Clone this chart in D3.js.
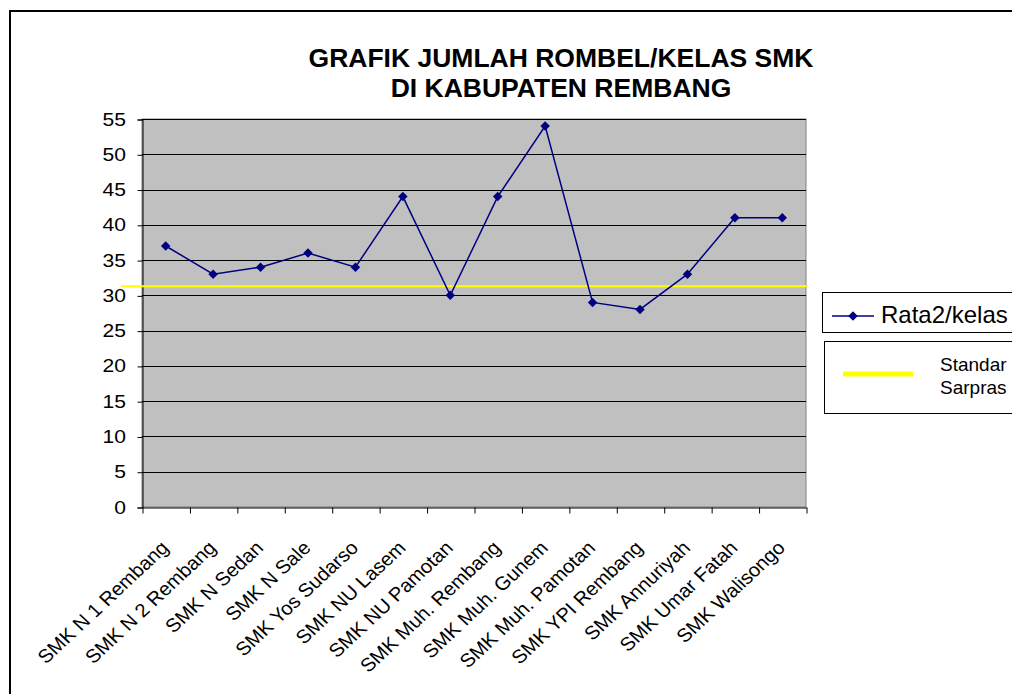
<html>
<head>
<script src="https://d3js.org/d3.v7.min.js"></script>
<style>
  body { margin: 0; background: #fff; }
  text { font-family: "Liberation Sans", Arial, sans-serif; fill: #000; }
</style>
</head>
<body>
<svg id="chart" width="1012" height="694"></svg>
<script>
// data
const sekolah = ["SMK N 1 Rembang", "SMK N 2 Rembang", "SMK N Sedan", "SMK N Sale",
  "SMK Yos Sudarso", "SMK NU Lasem", "SMK NU Pamotan", "SMK Muh. Rembang",
  "SMK Muh. Gunem", "SMK Muh. Pamotan", "SMK YPI Rembang", "SMK Annuriyah",
  "SMK Umar Fatah", "SMK Walisongo"];
const rata2 = [37, 33, 34, 36, 34, 44, 30, 44, 54, 29, 28, 33, 41, 41];
const standarSarpras = 31.3;
const yTicks = [0, 5, 10, 15, 20, 25, 30, 35, 40, 45, 50, 55];
const judul = ["GRAFIK JUMLAH ROMBEL/KELAS SMK", "DI KABUPATEN REMBANG"];

const svg = d3.select("#chart");
const plot = { left: 142, top: 119, right: 806, bottom: 507 };
const stretch = 1.14; // axis text in the picture is a bit wide

// outer frame
svg.append("rect")
  .attr("x", 10).attr("y", 11).attr("width", 1100).attr("height", 800)
  .attr("fill", "none").attr("stroke", "#000").attr("stroke-width", 2);

// title
svg.selectAll(".judul").data(judul).enter().append("text")
  .attr("class", "judul")
  .attr("x", 561).attr("y", (d, i) => 67 + i * 30)
  .attr("text-anchor", "middle")
  .style("font-weight", "bold").style("font-size", "26.5px")
  .text(d => d);

const x = d3.scaleBand().domain(sekolah).range([plot.left, plot.right]);
const y = d3.scaleLinear().domain([0, 55]).range([plot.bottom, plot.top]);

// plot background
svg.append("rect")
  .attr("x", plot.left).attr("y", plot.top)
  .attr("width", plot.right - plot.left).attr("height", plot.bottom - plot.top)
  .attr("fill", "#c0c0c0").attr("stroke", "#808080");

// gridlines
svg.selectAll(".grid").data(yTicks.filter(d => d > 0)).enter().append("line")
  .attr("x1", plot.left).attr("x2", plot.right)
  .attr("y1", d => Math.round(y(d)) + 0.5).attr("y2", d => Math.round(y(d)) + 0.5)
  .attr("stroke", "#000").attr("stroke-width", 1);

// y axis
const yAxis = svg.append("g")
  .attr("transform", "translate(" + (plot.left + 0.5) + ",0.5)")
  .call(d3.axisLeft(y).tickValues(yTicks).tickSize(5).tickFormat(""));
yAxis.selectAll("line,path").attr("stroke", "#000");

svg.selectAll(".ylab").data(yTicks).enter().append("text")
  .attr("class", "ylab")
  .attr("transform", d => "translate(126," + (y(d) + 6.5) + ") scale(" + stretch + ",1)")
  .attr("text-anchor", "end")
  .style("font-size", "18.5px")
  .text(d => d);

// x axis: ticks on category borders
const xb = d3.scaleLinear().domain([0, sekolah.length]).range([plot.left, plot.right]);
const xAxis = svg.append("g")
  .attr("transform", "translate(0.5," + (plot.bottom + 0.5) + ")")
  .call(d3.axisBottom(xb).tickValues(d3.range(sekolah.length + 1))
    .tickSize(6).tickSizeOuter(0).tickFormat(""));
xAxis.selectAll("line,path").attr("stroke", "#000");

svg.selectAll(".xlab").data(sekolah).enter().append("text")
  .attr("class", "xlab")
  .attr("transform", d => "translate(" + (x(d) + x.bandwidth() / 2 + 4) + "," + (plot.bottom + 42) +
    ") scale(1.07,1) rotate(-45)")
  .attr("text-anchor", "end")
  .style("font-size", "19px")
  .text(d => d);

// standard line
svg.append("line")
  .attr("x1", 121).attr("x2", 808)
  .attr("y1", y(standarSarpras)).attr("y2", y(standarSarpras))
  .attr("stroke", "#ffff00").attr("stroke-width", 2);

// series
const cx = (d, i) => x(sekolah[i]) + x.bandwidth() / 2;
svg.append("path")
  .datum(rata2)
  .attr("fill", "none").attr("stroke", "#000080").attr("stroke-width", 1.5)
  .attr("d", d3.line().x(cx).y(d => y(d)));

svg.selectAll(".pt").data(rata2).enter().append("path")
  .attr("class", "pt")
  .attr("transform", (d, i) => "translate(" + cx(d, i) + "," + y(d) + ") rotate(45)")
  .attr("d", d3.symbol().type(d3.symbolSquare).size(45))
  .attr("fill", "#000080");

// legend
const lg = svg.append("g");
lg.append("rect").attr("x", 822.5).attr("y", 292.5).attr("width", 300).attr("height", 40)
  .attr("fill", "#fff").attr("stroke", "#000");
lg.append("line").attr("x1", 832).attr("x2", 874).attr("y1", 316).attr("y2", 316)
  .attr("stroke", "#000080").attr("stroke-width", 1.5);
lg.append("path").attr("transform", "translate(853,316) rotate(45)")
  .attr("d", d3.symbol().type(d3.symbolSquare).size(45)).attr("fill", "#000080");
lg.append("text").attr("x", 881).attr("y", 323).style("font-size", "24px").text("Rata2/kelas");

lg.append("rect").attr("x", 824.5).attr("y", 341.5).attr("width", 300).attr("height", 72)
  .attr("fill", "#fff").attr("stroke", "#000");
lg.append("line").attr("x1", 843).attr("x2", 913).attr("y1", 374).attr("y2", 374)
  .attr("stroke", "#ffff00").attr("stroke-width", 5);
lg.selectAll(".ls").data(["Standar", "Sarpras"]).enter().append("text")
  .attr("x", 940).attr("y", (d, i) => 371 + i * 23)
  .style("font-size", "19px").text(d => d);
</script>
</body>
</html>
